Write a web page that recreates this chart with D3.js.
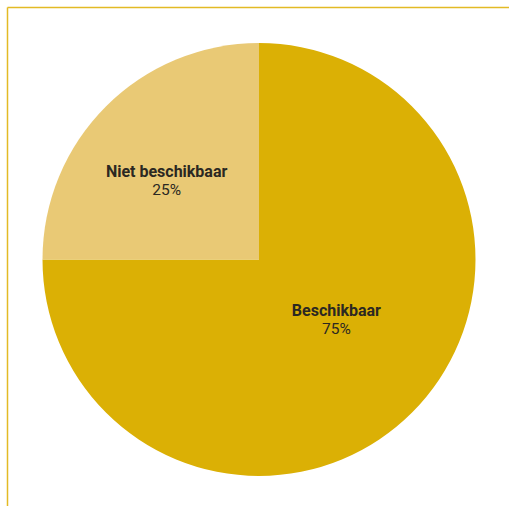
<!DOCTYPE html>
<html><head><meta charset="utf-8">
<script src="https://cdn.jsdelivr.net/npm/d3@7"></script>
<style>body{margin:0;background:#fff}</style>
</head><body>
<svg id="c" width="509" height="506"></svg>
<script>
const categories = ["Beschikbaar", "Niet beschikbaar"];
const values = [75, 25];
const valueLabels = ["75%", "25%"];
const colors = ["#dbb005", "#e9c975"];

const svg = d3.select("#c");
const W = 509, H = 506;
// frame lines
svg.append("line").attr("x1", 7.5).attr("x2", W).attr("y1", 7.5).attr("y2", 7.5)
  .attr("stroke", "#e3ba25").attr("stroke-width", 1.5);
svg.append("line").attr("x1", 7.5).attr("x2", 7.5).attr("y1", 7.5).attr("y2", H)
  .attr("stroke", "#e3ba25").attr("stroke-width", 1.5);

const cx = 259, cy = 259.5, R = 216.5;
const data = categories.map((c, i) => ({c, v: values[i], label: valueLabels[i], color: colors[i]}));
const pie = d3.pie().value(d => d.v).sort(null);
const arc = d3.arc().innerRadius(0).outerRadius(R);
const g = svg.append("g").attr("transform", `translate(${cx},${cy})`);
const arcs = pie(data);
g.selectAll("path").data(arcs).join("path")
  .attr("d", arc).attr("fill", d => d.data.color);

// label positions: centroid of a label arc, nudged
const labelArc = d3.arc().innerRadius(0).outerRadius(R * 1.22);
const nudge = [[-16, -36.5], [1, 10.5]];
const lbl = g.selectAll("g.lbl").data(arcs).join("g").attr("class", "lbl")
  .attr("transform", (d, i) => {
    const [x, y] = labelArc.centroid(d);
    return `translate(${x + nudge[i][0]},${y + nudge[i][1]})`;
  });
lbl.append("text").attr("text-anchor", "middle")
  .attr("font-family", "Roboto, sans-serif").attr("font-size", 16)
  .attr("font-weight", "bold").attr("fill", "#2b2822")
  .text(d => d.data.c);
lbl.append("text").attr("text-anchor", "middle").attr("y", 18)
  .attr("font-family", "Roboto, sans-serif").attr("font-size", 15.5)
  .attr("fill", "#2b2822")
  .text(d => d.data.label);
</script>
</body></html>
